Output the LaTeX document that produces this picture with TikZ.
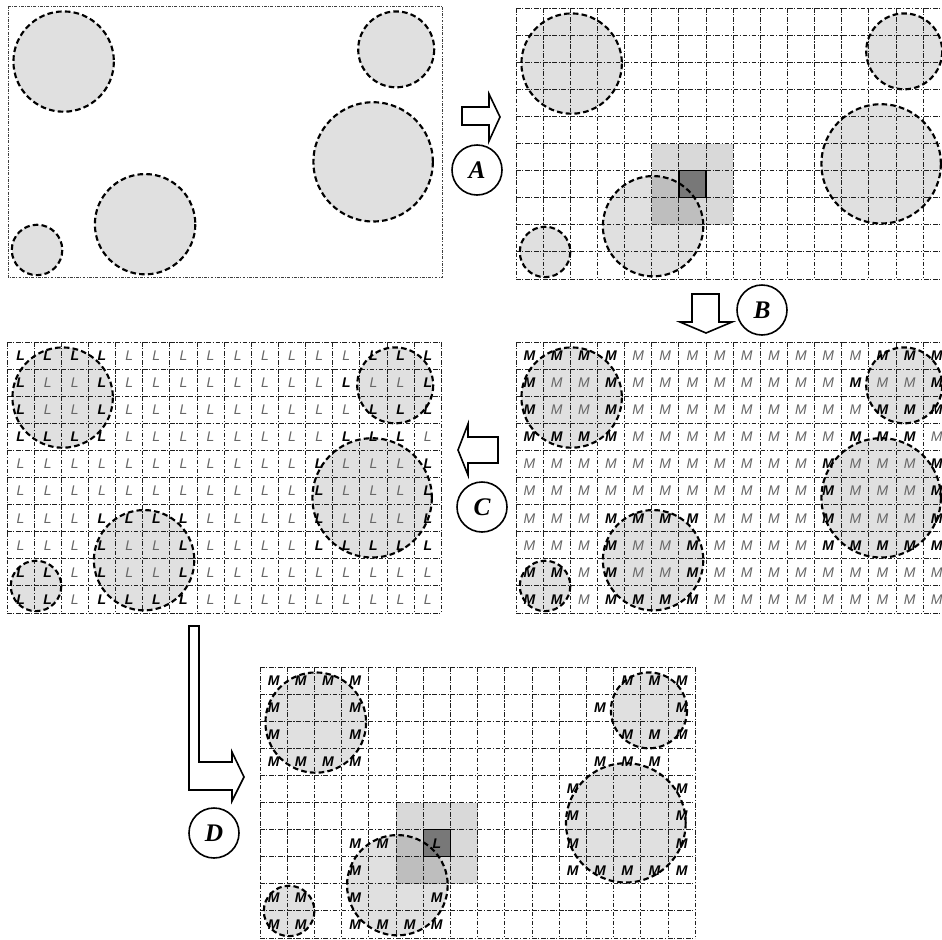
\documentclass[tikz,border=0pt]{standalone}
\usepackage{fontspec}
\newfontfamily\lblfont{Liberation Sans}
\newfontfamily\stepfont{Liberation Serif}
\usetikzlibrary{positioning}

\tikzset{
  panel/.style={x=20.36pt, y=-20.33pt},
  gridline/.style={draw=black!88, line width=0.75pt,
    dash pattern=on 3.4pt off 1.3pt on 0.8pt off 1.3pt},
  framebox/.style={draw=black!75, line width=0.6pt,
    dash pattern=on 2.2pt off 1pt on 0.6pt off 1pt},
  blobfill/.style={fill=black!12},
  blobline/.style={draw=black, line width=1.6pt, dash pattern=on 4.2pt off 2.4pt},
  edgelbl/.style={font=\lblfont\bfseries\itshape\fontsize{10.5}{11}\selectfont, text=black, inner sep=0pt},
  innerlbl/.style={font=\lblfont\itshape\fontsize{10.5}{11}\selectfont, text=black!60, inner sep=0pt},
  window/.style={fill=black, fill opacity=0.15},
  focus/.style={fill=black!53, draw=black, line width=1pt},
  stepmark/.style={circle, draw, line width=1.2pt, minimum size=37.5pt, inner sep=0pt,
    font=\stepfont\bfseries\itshape\fontsize{19}{20}\selectfont},
  blockarrow/.style={draw, line width=1.2pt, fill=white, line join=miter}
}

% cells crossed by a circle boundary (column/row)
\newcommand{\edgecells}{0/0,1/0,2/0,3/0,13/0,14/0,15/0,
  0/1,3/1,12/1,15/1,
  0/2,3/2,13/2,14/2,15/2,
  0/3,1/3,2/3,3/3,12/3,13/3,14/3,
  11/4,15/4,
  11/5,15/5,
  3/6,4/6,5/6,6/6,11/6,15/6,
  3/7,6/7,11/7,12/7,13/7,14/7,15/7,
  0/8,1/8,3/8,6/8,
  0/9,1/9,3/9,4/9,5/9,6/9}
\newcommand{\blobs}{2.05/2.05/1.85, 14.3/1.6/1.4, 13.45/5.75/2.2, 5.05/8.05/1.85, 1.07/9.0/0.93}

\newcommand{\fillblobs}{\foreach \cx/\cy/\rad in \blobs {\fill[blobfill] (\cx,\cy) circle (\rad);}}
\newcommand{\lineblobs}{\foreach \cx/\cy/\rad in \blobs {\draw[blobline] (\cx,\cy) circle (\rad);}}
\newcommand{\cellgrid}{%
  \foreach \ci in {0,...,16} {\draw[gridline] (\ci,0) -- (\ci,10);}
  \foreach \cj in {0,...,10} {\draw[gridline] (0,\cj) -- (16,\cj);}}
\newcommand{\celllabels}[2]{%
  \foreach \ci in {0,...,15} {\foreach \cj in {0,...,9} {
    \ifcsname edgecell-\ci-\cj\endcsname\def\lblstyle{edgelbl}\else\def\lblstyle{innerlbl}\fi
    \node[\lblstyle] (#2-\ci-\cj) at (\ci+0.5,\cj+0.5) {#1};}}}

\foreach \ci/\cj in \edgecells {\expandafter\gdef\csname edgecell-\ci-\cj\endcsname{}}

\begin{document}
\begin{tikzpicture}[x=0.75pt, y=-0.75pt, line cap=butt]
  \useasboundingbox (0,0) rectangle (942,939);
  \clip (0,0) rectangle (942,939);

  % --- panel A: the raw field ---
  \begin{scope}[shift={(8,6)}, panel]
    \fillblobs
    \draw[framebox] (0,0) rectangle (16,10);
    \lineblobs
  \end{scope}

  % --- panel B: grid with moving window ---
  \begin{scope}[shift={(516,8)}, panel]
    \fillblobs
    \fill[window] (5,5) rectangle (8,8);
    \cellgrid
    \draw[focus] (6,6) rectangle (7,7);
    \lineblobs
  \end{scope}

  % --- panel M: every cell labelled ---
  \begin{scope}[shift={(516,342)}, panel]
    \fillblobs
    \cellgrid
    \lineblobs
    \celllabels{M}{m}
  \end{scope}

  % --- panel L ---
  \begin{scope}[shift={(7,342)}, panel]
    \fillblobs
    \cellgrid
    \lineblobs
    \celllabels{L}{l}
  \end{scope}

  % --- panel D: only boundary cells keep M ---
  \begin{scope}[shift={(260,667)}, x=20.4pt, y=-20.33pt]
    \fillblobs
    \fill[window] (5,5) rectangle (8,8);
    \cellgrid
    \draw[focus] (6,6) rectangle (7,7);
    \lineblobs
    \foreach \ci/\cj in \edgecells {
      \pgfmathtruncatemacro{\inwin}{(\ci>4)*(\ci<8)*(\cj>4)*(\cj<8)}
      \ifnum\inwin=0 \node[edgelbl] (d-\ci-\cj) at (\ci+0.5,\cj+0.5) {M};\fi}
    \node[edgelbl] (d-focus) at (6.5,6.5) {L};
  \end{scope}

  % --- step arrows ---
  \draw[blockarrow] (462,107) -- (489,107) -- (489,94) -- (500,117)
    -- (489,141) -- (489,125) -- (462,125) -- cycle;
  \draw[blockarrow] (692,294) -- (719,294) -- (719,322) -- (732,322)
    -- (706,333) -- (680,322) -- (692,322) -- cycle;
  \draw[blockarrow] (498,437) -- (498,463) -- (468,463) -- (468,475)
    -- (458,450) -- (468,424) -- (468,437) -- cycle;
  \draw[blockarrow] (189,626) -- (199,626) -- (199,762) -- (232,762)
    -- (232,752) -- (244,777) -- (232,801) -- (232,790) -- (189,790) -- cycle;

  % --- step marks ---
  \node[stepmark] (markA) at (477,170) {A};
  \node[stepmark] (markB) at (762,310) {B};
  \node[stepmark] (markC) at (482,507) {C};
  \node[stepmark] (markD) at (214,833) {D};
\end{tikzpicture}
\end{document}
